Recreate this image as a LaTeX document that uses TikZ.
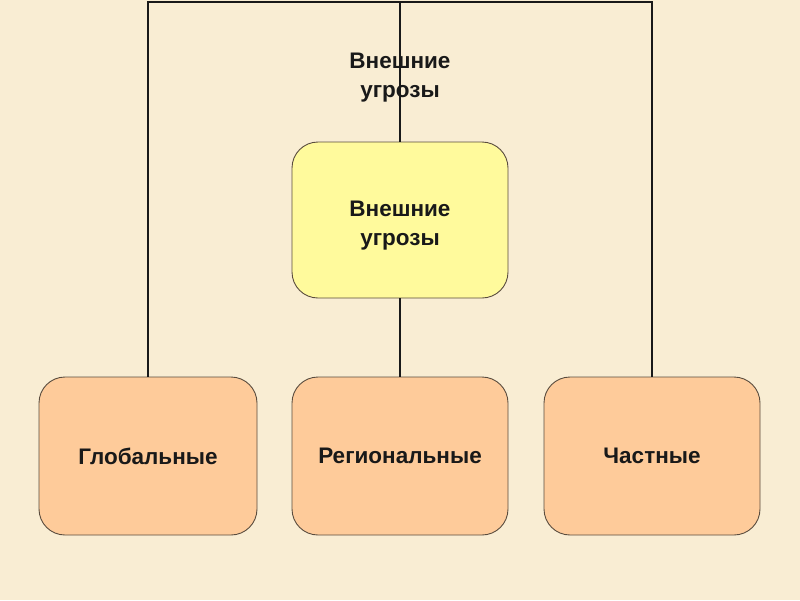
\documentclass[tikz,border=0pt]{standalone}
\usepackage{fontspec}
\setmainfont{Liberation Sans}
\definecolor{bgc}{HTML}{F9EDD3}
\definecolor{yel}{HTML}{FFFA9C}
\definecolor{ora}{HTML}{FECB9A}
\definecolor{edge}{HTML}{5A4C3E}
\begin{document}
\begin{tikzpicture}[x=1pt,y=-1pt,
  txt/.style={align=center,font=\fontsize{22.5}{29}\selectfont\bfseries,text=black!90},
  box/.style={txt,draw=edge,line width=0.9pt,rounded corners=26pt},
  conn/.style={draw=black!90,line width=2pt}]
\fill[bgc] (0,0) rectangle (800,600);
\useasboundingbox (0,0) rectangle (800,600);
\node[txt] (lbl) at (400,78) {Внешние\\угрозы};
\node[box,fill=yel,minimum width=216pt,minimum height=156pt] (C) at (400,220) {};
\node[txt] (Ct) at (400,226) {Внешние\\угрозы};
\node[box,fill=ora,minimum width=218pt,minimum height=158pt] (L) at (148,456) {Глобальные};
\node[box,fill=ora,minimum width=216pt,minimum height=158pt] (M) at (400,456) {Региональные};
\node[box,fill=ora,minimum width=216pt,minimum height=158pt] (R) at (652,456) {Частные};
\coordinate (tl) at (148,1.5);
\coordinate (tm) at (400,1.5);
\coordinate (tr) at (652,1.5);
\draw[conn] (L.north) -- (tl) -- (tr) -- (R.north);
\draw[conn] (tm) -- (C.north);
\draw[conn] (C.south) -- (M.north);
\end{tikzpicture}
\end{document}
